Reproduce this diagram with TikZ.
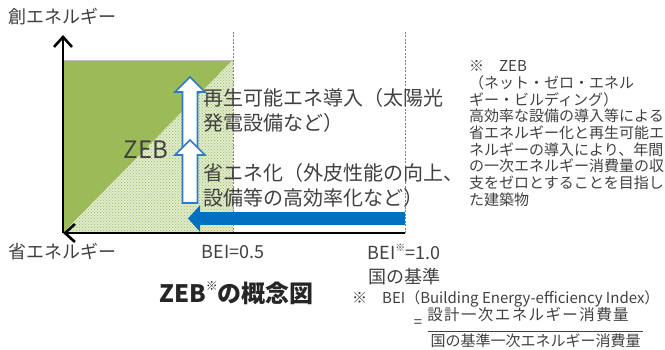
\documentclass[tikz,border=0pt]{standalone}
\usepackage{fontspec}
\setmainfont{Noto Sans CJK JP}
\usetikzlibrary{arrows.meta, positioning, patterns}
\definecolor{zebgreen}{HTML}{9BBB59}
\definecolor{zebblue}{HTML}{0070C0}
\definecolor{lineblue}{HTML}{2E7BC4}
\definecolor{txtgray}{HTML}{404040}

\begin{document}
\begin{tikzpicture}[x=1pt, y=-1pt, >={Straight Barb[length=10pt,width=18pt]}]
\tikzstyle{axis}=[->, line width=2.6pt, black]
\tikzstyle{guide}=[gray, line width=0.8pt, dash pattern=on 2pt off 1.5pt]
\tikzstyle{uparrow}=[draw=lineblue, fill=white, line width=1.6pt]
\tikzstyle{lab}=[text=txtgray, inner sep=0pt, font=\fontsize{18}{20}\selectfont]
\tikzstyle{big}=[text=txtgray, inner sep=0pt, align=left, anchor=west, font=\fontsize{20}{25}\selectfont]
\tikzstyle{note}=[text=txtgray, inner sep=0pt, align=left, font=\fontsize{15}{16.7}\selectfont]

\clip (0,0) rectangle (665,349);

% axes and BEI lines
\coordinate (O) at (63,233);
\coordinate (ytop) at (63,35);
\coordinate (xend) at (405,233);
\coordinate (half) at (233,233);
\coordinate (halftop) at (233,32);
\coordinate (fulltop) at (405,32);
\coordinate (boxtop) at (233,60);

% ZEB area
\fill[zebgreen] (O |- boxtop) -- (boxtop) -- (O) -- cycle;
\fill[zebgreen!30] (O) -- (boxtop) -- (half) -- cycle;
\fill[pattern=crosshatch dots, pattern color=zebgreen] (O) -- (boxtop) -- (half) -- cycle;
\draw[gray!50, line width=0.8pt] (O |- boxtop) -- (boxtop);
\draw[guide] (half) -- (halftop);
\draw[guide] (xend) -- (fulltop);

% saving arrow
\coordinate (effR) at (405,218.5);
\coordinate (effL) at (188,218.5);
\draw[zebblue, line width=13pt, -{Triangle[length=12pt,width=26pt]}] (effR) -- (effL);

% up arrows
\draw[uparrow] (182.5,150) -- (182.5,92) -- (175,92) -- (190,77) -- (205,92) -- (197.5,92) -- (197.5,150) -- cycle;
\draw[uparrow] (182.5,203) -- (182.5,155) -- (175,155) -- (190,140) -- (205,155) -- (197.5,155) -- (197.5,203) -- cycle;

\draw[axis] (O) -- (ytop);
\draw[axis] (xend) -- (O);

% labels
\node[lab] (sou) at (63,17) {創エネルギー};
\node[lab] (sho) at (63,252) {省エネルギー};
\node[lab] (bei05) at (233,252) {BEI=0.5};
\node[lab] (bei10) at (404,252) {BEI\raisebox{.45em}{\fontsize{10}{10}\selectfont ※}=1.0};
\node[lab] (kijun) at (404,277) {国の基準};

\node[big] (renew) at (203,110.5) {再生可能エネ導入（太陽光\\発電設備など）};
\node[big] (eff) at (203,185) {省エネ化（外皮性能の向上、\\設備等の高効率化など）};
\node[text=txtgray, inner sep=0pt, font=\fontsize{24}{24}\selectfont] (zeb) at (146,150) {ZEB};

\node[note, anchor=west] (def) at (469,133.5) {※　ZEB\\（ネット・ゼロ・エネル\\ギー・ビルディング）\\高効率な設備の導入等による\\省エネルギー化と再生可能エ\\ネルギーの導入により、年間\\の一次エネルギー消費量の収\\支をゼロとすることを目指し\\た建築物};

\node[text=black!85, inner sep=0pt, font=\bfseries\fontsize{24}{24}\selectfont] (title) at (236.5,293) {ZEB\raisebox{.5em}{\fontsize{12}{12}\selectfont ※}の概念図};

% BEI definition
\node[note, anchor=west] (beidef) at (352,299) {※　BEI（Building Energy-efficiency Index）};
\node[note] (eq) at (418,324) {=};
\node[note, font=\fontsize{15.5}{17}\selectfont\addfontfeature{LetterSpace=9}] (numer) at (528,314.5) {設計一次エネルギー消費量};
\node[note] (denom) at (535.5,341) {国の基準一次エネルギー消費量};
\coordinate (fracL) at (428,331);
\coordinate (fracR) at (643,331);
\draw[txtgray, line width=0.8pt] (fracL) -- (fracR);
\end{tikzpicture}
\end{document}
